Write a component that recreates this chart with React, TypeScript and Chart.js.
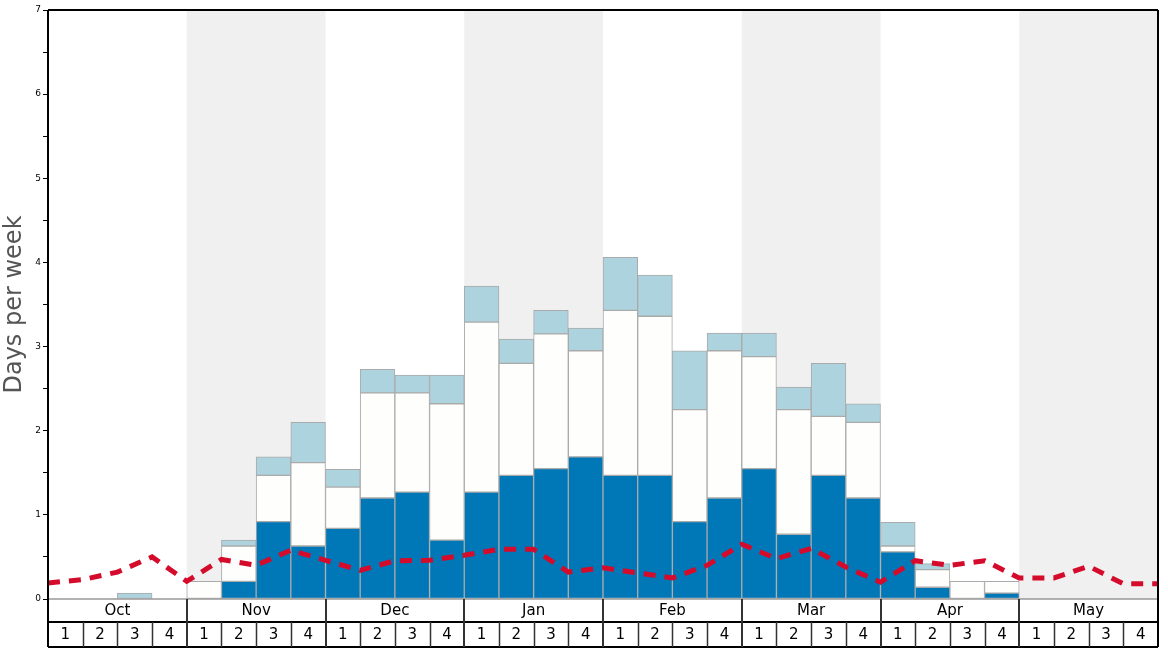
import React, { useEffect, useRef } from "react";
import { Chart, registerables } from "chart.js";

Chart.register(...registerables);

const months = ["Oct", "Nov", "Dec", "Jan", "Feb", "Mar", "Apr", "May"];
const weekLabels = ["1", "2", "3", "4"];
const shadedMonths = [false, true, false, true, false, true, false, true];

// Days per week, stacked (per week, 32 weeks)
const darkValues = [
  0, 0, 0, 0,
  0, 0.21, 0.92, 0.63,
  0.84, 1.2, 1.27, 0.7,
  1.27, 1.47, 1.55, 1.69,
  1.47, 1.47, 0.92, 1.2,
  1.55, 0.77, 1.47, 1.2,
  0.56, 0.14, 0, 0.07,
  0, 0, 0, 0,
];
const whiteValues = [
  0, 0, 0, 0,
  0.21, 0.42, 0.55, 0.99,
  0.49, 1.25, 1.18, 1.62,
  2.02, 1.33, 1.6, 1.26,
  1.96, 1.89, 1.33, 1.75,
  1.33, 1.48, 0.7, 0.9,
  0.07, 0.21, 0.21, 0.14,
  0, 0, 0, 0,
];
const lightValues = [
  0, 0, 0.07, 0,
  0, 0.07, 0.22, 0.48,
  0.21, 0.28, 0.21, 0.34,
  0.43, 0.29, 0.28, 0.27,
  0.63, 0.49, 0.7, 0.21,
  0.28, 0.27, 0.63, 0.22,
  0.28, 0.07, 0, 0,
  0, 0, 0, 0,
];
// Dashed line values at week boundaries (33 points)
const lineValues = [
  0.19, 0.23, 0.32, 0.5, 0.21, 0.47, 0.4, 0.58, 0.46,
  0.34, 0.455, 0.46, 0.52, 0.59, 0.59, 0.32, 0.37,
  0.31, 0.25, 0.4, 0.65, 0.48, 0.6, 0.38, 0.2,
  0.455, 0.4, 0.455, 0.25, 0.25, 0.39, 0.18, 0.18,
];
const yTicks = [0, 1, 2, 3, 4, 5, 6, 7];

const FONT = "'DejaVu Sans', sans-serif";

const toBarData = (arr: number[]) =>
  arr.map((v, i) => ({ x: i + 0.5, y: v > 0 ? v : null }));

const decorPlugin = {
  id: "decor",
  beforeDatasetsDraw(chart: any) {
    const { ctx, chartArea, scales } = chart;
    const x = scales.x;
    ctx.save();
    shadedMonths.forEach((s, m) => {
      if (!s) return;
      const x0 = x.getPixelForValue(m * 4);
      const x1 = x.getPixelForValue(m * 4 + 4);
      ctx.fillStyle = "#f0f0f0";
      ctx.fillRect(x0, chartArea.top, x1 - x0, chartArea.bottom - chartArea.top);
    });
    ctx.restore();
  },
  afterDraw(chart: any) {
    const { ctx, chartArea, scales } = chart;
    const x = scales.x;
    const left = chartArea.left;
    const right = chartArea.right;
    const top = chartArea.top;
    const bottom = chartArea.bottom;
    const rowMid = bottom + 23;
    const rowEnd = 647;
    ctx.save();
    // bottom baseline
    ctx.strokeStyle = "#999999";
    ctx.lineWidth = 1.5;
    ctx.beginPath();
    ctx.moveTo(left, bottom);
    ctx.lineTo(right, bottom);
    ctx.stroke();
    // frame
    ctx.strokeStyle = "#000000";
    ctx.lineWidth = 2;
    ctx.beginPath();
    ctx.moveTo(left, top);
    ctx.lineTo(right, top);
    ctx.moveTo(right, top);
    ctx.lineTo(right, rowEnd);
    ctx.moveTo(left, top);
    ctx.lineTo(left, rowEnd);
    ctx.moveTo(left, rowMid);
    ctx.lineTo(right, rowMid);
    ctx.moveTo(left, rowEnd);
    ctx.lineTo(right, rowEnd);
    ctx.stroke();
    ctx.strokeStyle = "#333333";
    ctx.lineWidth = 2;
    ctx.beginPath();
    for (let m = 1; m < months.length; m++) {
      const px = Math.round(x.getPixelForValue(m * 4));
      ctx.moveTo(px, bottom);
      ctx.lineTo(px, rowEnd);
    }
    ctx.stroke();
    ctx.lineWidth = 1.5;
    ctx.beginPath();
    for (let w = 1; w < 32; w++) {
      if (w % 4 === 0) continue;
      const px = Math.round(x.getPixelForValue(w)) + 0.5;
      ctx.moveTo(px, rowMid);
      ctx.lineTo(px, rowEnd);
    }
    ctx.stroke();
    ctx.fillStyle = "#000000";
    ctx.textAlign = "center";
    ctx.textBaseline = "middle";
    ctx.font = `15px ${FONT}`;
    months.forEach((mName, m) => {
      const cx = x.getPixelForValue(m * 4 + 2);
      ctx.fillText(mName, cx, (bottom + rowMid) / 2 + 1);
      weekLabels.forEach((wl, w) => {
        const wx = x.getPixelForValue(m * 4 + w + 0.5);
        ctx.fillText(wl, wx, (rowMid + rowEnd) / 2 + 1);
      });
    });
    ctx.restore();
  },
};

export default function App() {
  const ref = useRef<HTMLCanvasElement | null>(null);
  useEffect(() => {
    if (!ref.current) return;
    const barCommon = {
      type: "bar" as const,
      borderColor: "#aaaaaa",
      borderWidth: 1,
      borderSkipped: false,
      barPercentage: 1,
      categoryPercentage: 1,
      stack: "bars",
      order: 2,
    };
    const chart = new Chart(ref.current, {
      type: "bar",
      data: {
        datasets: [
          { ...barCommon, label: "dark", data: toBarData(darkValues), backgroundColor: "#0077b6" },
          { ...barCommon, label: "white", data: toBarData(whiteValues), backgroundColor: "#fefefc" },
          { ...barCommon, label: "light", data: toBarData(lightValues), backgroundColor: "#add3df" },
          {
            type: "line",
            label: "line",
            data: lineValues.map((v, k) => ({ x: k, y: v })),
            borderColor: "#d50b2c",
            borderWidth: 5,
            borderDash: [12, 9],
            pointRadius: 0,
            tension: 0,
            fill: false,
            stack: "line",
            order: 0,
          } as any,
        ],
      },
      options: {
        animation: false,
        responsive: false,
        devicePixelRatio: 1,
        layout: { padding: { top: 10, right: 10, left: 0, bottom: 0 } },
        plugins: { legend: { display: false }, tooltip: { enabled: false } },
        scales: {
          x: {
            type: "linear",
            min: 0,
            max: 32,
            stacked: true,
            offset: false,
            grid: { display: false },
            border: { display: false },
            ticks: { display: false },
            afterFit: (s: any) => {
              s.height = 49;
            },
          },
          y: {
            type: "linear",
            min: 0,
            max: 7,
            stacked: true,
            grid: {
              drawOnChartArea: false,
              drawTicks: true,
              tickLength: 5,
              color: "#000000",
              lineWidth: 1,
            },
            border: { display: false },
            ticks: {
              stepSize: 0.5,
              autoSkip: false,
              padding: 2,
              color: "#000000",
              font: { size: 9, family: FONT },
              callback: (v: any) => (yTicks.includes(Number(v)) ? String(v) : ""),
            },
            title: {
              display: true,
              text: "Days per week",
              color: "#555555",
              font: { size: 24, family: FONT },
              padding: { top: 0, bottom: 0 },
            },
            afterFit: (s: any) => {
              s.width = 48;
            },
          },
        },
      } as any,
      plugins: [decorPlugin],
    });
    return () => chart.destroy();
  }, []);
  return (
    <div style={{ position: "absolute", left: 0, top: 0, width: 1168, height: 648 }}>
      <canvas ref={ref} width={1168} height={648} style={{ width: 1168, height: 648 }} />
    </div>
  );
}
